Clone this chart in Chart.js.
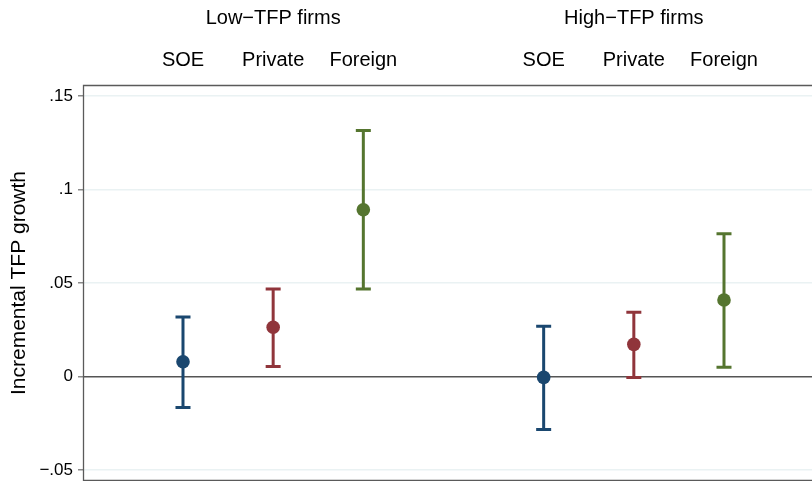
<!DOCTYPE html>
<html>
<head>
<meta charset="utf-8">
<script src="https://cdn.jsdelivr.net/npm/chart.js@4/dist/chart.umd.min.js"></script>
<style>
  html, body { margin: 0; padding: 0; background: #ffffff; }
  #wrap { width: 812px; height: 481px; position: relative; }
</style>
</head>
<body>
<div id="wrap"><canvas id="c" width="812" height="481"></canvas></div>
<script>
// Ownership categories and their x positions (two groups, gap between them)
const ownership = ['SOE', 'Private', 'Foreign'];
const groups = ['Low\u2212TFP firms', 'High\u2212TFP firms'];
const groupCenters = [2, 6];
const posSOE = [1, 5];
const posPrivate = [2, 6];
const posForeign = [3, 7];

// Point estimates and confidence bounds (low-TFP, high-TFP)
const estSOE = [0.0079, -0.0005];
const loSOE = [-0.0166, -0.0284];
const hiSOE = [0.0318, 0.0269];

const estPrivate = [0.0263, 0.0172];
const loPrivate = [0.0054, -0.0005];
const hiPrivate = [0.0468, 0.0344];

const estForeign = [0.0892, 0.0409];
const loForeign = [0.0468, 0.0050];
const hiForeign = [0.1316, 0.0763];

// Y axis ticks and their labels
const yTickValues = [-0.05, 0, 0.05, 0.1, 0.15];
const yTickLabels = ['\u2212.05', '0', '.05', '.1', '.15'];

const NAVY = '#1a476f', MAROON = '#90353b', GREEN = '#55752f';
const FONT = "'Liberation Sans', Arial, Helvetica, sans-serif";
const X_MIN = -0.109, X_MAX = 7.976;
const Y_MIN = -0.0559, Y_MAX = 0.1559;

function pts(xs, ys) { return xs.map((x, i) => ({ x: x, y: ys[i] })); }

// Capped vertical interval for each point, drawn through the chart scales
const errorBars = {
  id: 'errorBars',
  beforeDatasetsDraw(chart) {
    const ctx = chart.ctx;
    const xs = chart.scales.x, ys = chart.scales.y;
    chart.data.datasets.forEach((ds) => {
      ds.data.forEach((p, i) => {
        const px = xs.getPixelForValue(p.x);
        const pLo = ys.getPixelForValue(ds.lo[i]);
        const pHi = ys.getPixelForValue(ds.hi[i]);
        const cap = 7.5;
        ctx.save();
        ctx.strokeStyle = ds.borderColor;
        ctx.lineWidth = 3;
        ctx.lineCap = 'butt';
        ctx.beginPath();
        ctx.moveTo(px, pLo); ctx.lineTo(px, pHi);
        ctx.moveTo(px - cap, pLo); ctx.lineTo(px + cap, pLo);
        ctx.moveTo(px - cap, pHi); ctx.lineTo(px + cap, pHi);
        ctx.stroke();
        ctx.restore();
      });
    });
  }
};

// Plot region frame (left, top, bottom edges)
const frame = {
  id: 'frame',
  afterDatasetsDraw(chart) {
    const a = chart.chartArea, ctx = chart.ctx;
    ctx.save();
    ctx.strokeStyle = '#5a5a5a';
    ctx.lineWidth = 1.3;
    ctx.beginPath();
    ctx.moveTo(a.right + 5, a.top + 0.5);
    ctx.lineTo(a.left + 0.5, a.top + 0.5);
    ctx.lineTo(a.left + 0.5, a.bottom - 0.5);
    ctx.lineTo(a.right + 5, a.bottom - 0.5);
    ctx.stroke();
    ctx.restore();
  }
};

function noSidePadding(s) { s.paddingLeft = 0; s.paddingRight = 0; }

new Chart(document.getElementById('c'), {
  type: 'scatter',
  data: {
    datasets: [
      { label: ownership[0], data: pts(posSOE, estSOE), lo: loSOE, hi: hiSOE,
        backgroundColor: NAVY, borderColor: NAVY },
      { label: ownership[1], data: pts(posPrivate, estPrivate), lo: loPrivate, hi: hiPrivate,
        backgroundColor: MAROON, borderColor: MAROON },
      { label: ownership[2], data: pts(posForeign, estForeign), lo: loForeign, hi: hiForeign,
        backgroundColor: GREEN, borderColor: GREEN }
    ]
  },
  options: {
    responsive: false,
    animation: false,
    layout: { padding: 0, autoPadding: false },
    elements: { point: { radius: 6.8, borderWidth: 0, hoverRadius: 6.8 } },
    plugins: { legend: { display: false }, tooltip: { enabled: false } },
    scales: {
      x: {
        type: 'linear', min: X_MIN, max: X_MAX, display: false,
        afterFit: noSidePadding
      },
      xCat: {
        type: 'linear', position: 'top', min: X_MIN, max: X_MAX, weight: 0,
        afterBuildTicks: (s) => {
          s.ticks = posSOE.concat(posPrivate, posForeign).sort((a, b) => a - b).map(v => ({ value: v }));
        },
        afterFit: (s) => { s.height = 45; noSidePadding(s); },
        grid: { display: false, drawTicks: false },
        border: { display: false },
        ticks: {
          autoSkip: false, maxRotation: 0, padding: 13,
          color: '#000', font: { family: FONT, size: 20 },
          callback: (v) => {
            const i = [1, 2, 3, 5, 6, 7].indexOf(v);
            return i < 0 ? '' : ownership[i % 3];
          }
        }
      },
      xGroup: {
        type: 'linear', position: 'top', min: X_MIN, max: X_MAX, weight: 1,
        afterBuildTicks: (s) => { s.ticks = groupCenters.map(v => ({ value: v })); },
        afterFit: (s) => { s.height = 40; noSidePadding(s); },
        grid: { display: false, drawTicks: false },
        border: { display: false },
        ticks: {
          autoSkip: false, maxRotation: 0, padding: 10,
          color: '#000', font: { family: FONT, size: 20 },
          callback: (v) => {
            const i = groupCenters.indexOf(v);
            return i < 0 ? '' : groups[i];
          }
        }
      },
      y: {
        type: 'linear', min: Y_MIN, max: Y_MAX,
        afterBuildTicks: (s) => { s.ticks = yTickValues.map(v => ({ value: v })); },
        afterFit: (s) => { s.width = 83; s.paddingTop = 0; s.paddingBottom = 0; },
        border: { display: false },
        grid: {
          color: (c) => (c.tick && c.tick.value === 0) ? '#555555' : '#eaf2f3',
          lineWidth: 1.5,
          tickColor: '#8a8a8a',
          tickLength: 5
        },
        ticks: {
          padding: 5, color: '#000', font: { family: FONT, size: 17 },
          callback: (v) => {
            const i = yTickValues.indexOf(v);
            return i < 0 ? '' : yTickLabels[i];
          }
        },
        title: {
          display: true, text: 'Incremental TFP growth', color: '#000',
          font: { family: FONT, size: 21 }, padding: { top: 7, bottom: 0 }
        }
      }
    }
  },
  plugins: [errorBars, frame]
});
</script>
</body>
</html>
